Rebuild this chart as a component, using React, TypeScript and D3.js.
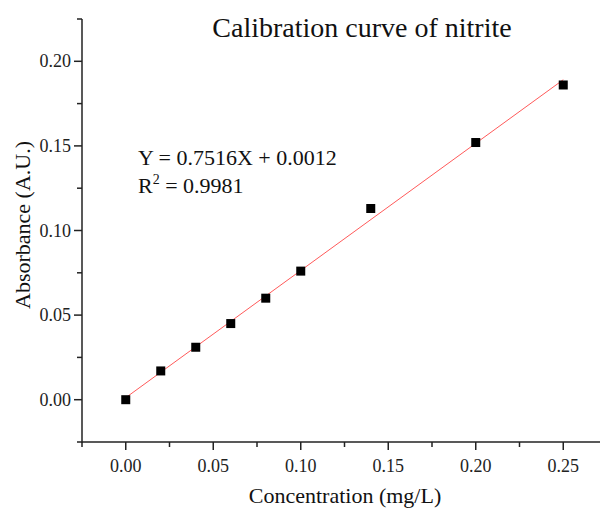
import React from "react";
import * as d3 from "d3";

const concentrations = [0, 0.02, 0.04, 0.06, 0.08, 0.1, 0.14, 0.2, 0.25];
const absorbances = [0, 0.017, 0.031, 0.045, 0.06, 0.076, 0.113, 0.152, 0.186];
const slope = 0.7516;
const intercept = 0.0012;
const xTicks = [0, 0.05, 0.1, 0.15, 0.2, 0.25];
const xMinor = [-0.025, 0.025, 0.075, 0.125, 0.175, 0.225];
const yTicks = [0, 0.05, 0.1, 0.15, 0.2];
const yMinor = [-0.025, 0.025, 0.075, 0.125, 0.175, 0.225];
const title = "Calibration curve of nitrite";
const xLabel = "Concentration (mg/L)";
const yLabel = "Absorbance (A.U.)";

const W = 600;
const H = 508;
const FONT = "'Liberation Serif', 'Times New Roman', serif";

export default function App() {
  const x = d3.scaleLinear().domain([-0.025, 0.275]).range([82, 607]);
  const y = d3.scaleLinear().domain([-0.025, 0.225]).range([442, 19]);
  const fit = d3
    .line<number>()
    .x((d) => x(d))
    .y((d) => y(slope * d + intercept));
  const fmt = d3.format(".2f");
  const axisColor = "#222";
  return (
    <svg
      width={W}
      height={H}
      style={{ position: "absolute", left: 0, top: 0, background: "#fff" }}
      fontFamily={FONT}
    >
      <rect width={W} height={H} fill="#fff" />
      <text x={362} y={37} fontSize={28} textAnchor="middle" fill="#111">
        {title}
      </text>
      {/* fit line */}
      <path d={fit([0, 0.25]) || ""} stroke="#ff5a5a" strokeWidth={1} fill="none" />
      {/* points */}
      {concentrations.map((c, i) => (
        <rect
          key={i}
          x={x(c) - 4.5}
          y={y(absorbances[i]) - 4.5}
          width={9}
          height={9}
          fill="#000"
        />
      ))}
      {/* axes */}
      <line x1={x.range()[0]} x2={W} y1={442} y2={442} stroke={axisColor} strokeWidth={1.5} />
      <line x1={82} x2={82} y1={19} y2={442.75} stroke={axisColor} strokeWidth={1.5} />
      {xTicks.map((t) => (
        <g key={"xt" + t}>
          <line x1={x(t)} x2={x(t)} y1={442} y2={450} stroke={axisColor} strokeWidth={1.5} />
          <text x={x(t)} y={472} fontSize={18} textAnchor="middle" fill="#222">
            {fmt(t)}
          </text>
        </g>
      ))}
      {xMinor.map((t) => (
        <line key={"xm" + t} x1={x(t)} x2={x(t)} y1={442} y2={447} stroke={axisColor} strokeWidth={1.5} />
      ))}
      {yTicks.map((t) => (
        <g key={"yt" + t}>
          <line x1={74} x2={82} y1={y(t)} y2={y(t)} stroke={axisColor} strokeWidth={1.5} />
          <text x={71} y={y(t) + 6} fontSize={18} textAnchor="end" fill="#222">
            {fmt(t)}
          </text>
        </g>
      ))}
      {yMinor.map((t) => (
        <line key={"ym" + t} x1={77} x2={82} y1={y(t)} y2={y(t)} stroke={axisColor} strokeWidth={1.5} />
      ))}
      <text x={345} y={503} fontSize={22} textAnchor="middle" fill="#111">
        {xLabel}
      </text>
      <text
        transform={`translate(30, 225) rotate(-90)`}
        fontSize={22}
        textAnchor="middle"
        fill="#111"
      >
        {yLabel}
      </text>
      <text x={138} y={165} fontSize={22} fill="#111">
        Y = 0.7516X + 0.0012
      </text>
      <text x={138} y={193} fontSize={22} fill="#111">
        R<tspan dy={-9} fontSize={14}>2</tspan>
        <tspan dy={9}> = 0.9981</tspan>
      </text>
    </svg>
  );
}
